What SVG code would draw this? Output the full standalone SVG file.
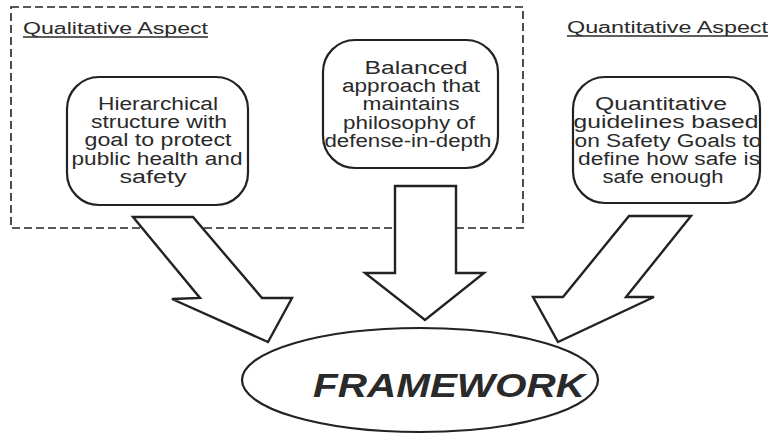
<svg xmlns="http://www.w3.org/2000/svg" width="771" height="434" viewBox="0 0 771 434">
<style>
.box{fill:none;stroke:#222;stroke-width:2.2}
.arrow{fill:#fff;stroke:#222;stroke-width:2.4;stroke-linejoin:miter}
.t{font-family:"Liberation Sans",Arial,sans-serif;font-size:18px;fill:#2a2a2a;text-anchor:middle}
.h{font-family:"Liberation Sans",Arial,sans-serif;font-size:16px;fill:#2a2a2a;text-decoration:underline}
.ul{stroke:#2a2a2a;stroke-width:1.3}
</style>
<rect width="771" height="434" fill="#fff"/>
<g id="qualitative-group">
<rect x="11" y="7" width="512" height="221" fill="none" stroke="#222" stroke-width="1.6" stroke-dasharray="8,4"/>
<text x="23" y="34" class="h" style="text-decoration:none" textLength="185" lengthAdjust="spacingAndGlyphs">Qualitative Aspect</text>
<line x1="23" y1="37" x2="208" y2="37" class="ul"/>
</g>
<g id="quantitative-label">
<text x="567" y="33" class="h" style="text-decoration:none" textLength="201" lengthAdjust="spacingAndGlyphs">Quantitative Aspect</text>
<line x1="567" y1="36" x2="768" y2="36" class="ul"/>
</g>
<g id="node-hierarchical">
<rect x="67" y="77" width="181" height="128" rx="32" class="box"/>
<text class="t" x="158" y="110" textLength="120" lengthAdjust="spacingAndGlyphs">Hierarchical</text>
<text class="t" x="159" y="128" textLength="136" lengthAdjust="spacingAndGlyphs">structure with</text>
<text class="t" x="158" y="146" textLength="147" lengthAdjust="spacingAndGlyphs">goal to protect</text>
<text class="t" x="157" y="165" textLength="171" lengthAdjust="spacingAndGlyphs">public health and</text>
<text class="t" x="153" y="183" textLength="67" lengthAdjust="spacingAndGlyphs">safety</text>
</g>
<g id="node-balanced">
<rect x="323" y="40" width="175" height="128" rx="32" class="box"/>
<text class="t" x="416" y="74" textLength="103" lengthAdjust="spacingAndGlyphs">Balanced</text>
<text class="t" x="411" y="92" textLength="138" lengthAdjust="spacingAndGlyphs">approach that</text>
<text class="t" x="411" y="110" textLength="97" lengthAdjust="spacingAndGlyphs">maintains</text>
<text class="t" x="409" y="129" textLength="132" lengthAdjust="spacingAndGlyphs">philosophy of</text>
<text class="t" x="408" y="147" textLength="167" lengthAdjust="spacingAndGlyphs">defense-in-depth</text>
</g>
<g id="node-quantitative">
<rect x="573" y="77" width="187" height="126" rx="32" class="box"/>
<text class="t" x="661" y="110" textLength="132" lengthAdjust="spacingAndGlyphs">Quantitative</text>
<text class="t" x="666" y="128" textLength="185" lengthAdjust="spacingAndGlyphs">guidelines based</text>
<text class="t" x="668" y="147" textLength="187" lengthAdjust="spacingAndGlyphs">on Safety Goals to</text>
<text class="t" x="669" y="165" textLength="182" lengthAdjust="spacingAndGlyphs">define how safe is</text>
<text class="t" x="663" y="183" textLength="121" lengthAdjust="spacingAndGlyphs">safe enough</text>
</g>
<g id="connectors">
<polygon class="arrow" points="133,217 193,217 262,298 292,298 268,342 172,299 200,298"/>
<polygon class="arrow" points="395,186 456,186 456,273 484,273 425,320 365,273 395,273"/>
<polygon class="arrow" points="629,216 691,216 626,297 654,297 558,342 533,297 563,297"/>
</g>
<g id="node-framework">
<ellipse cx="420" cy="380" rx="178" ry="52" class="box"/>
<text x="449" y="397" font-family="Liberation Sans, Arial, sans-serif" font-size="33" font-weight="bold" font-style="italic" fill="#2a2a2a" text-anchor="middle" textLength="272" lengthAdjust="spacingAndGlyphs">FRAMEWORK</text>
</g>
</svg>
